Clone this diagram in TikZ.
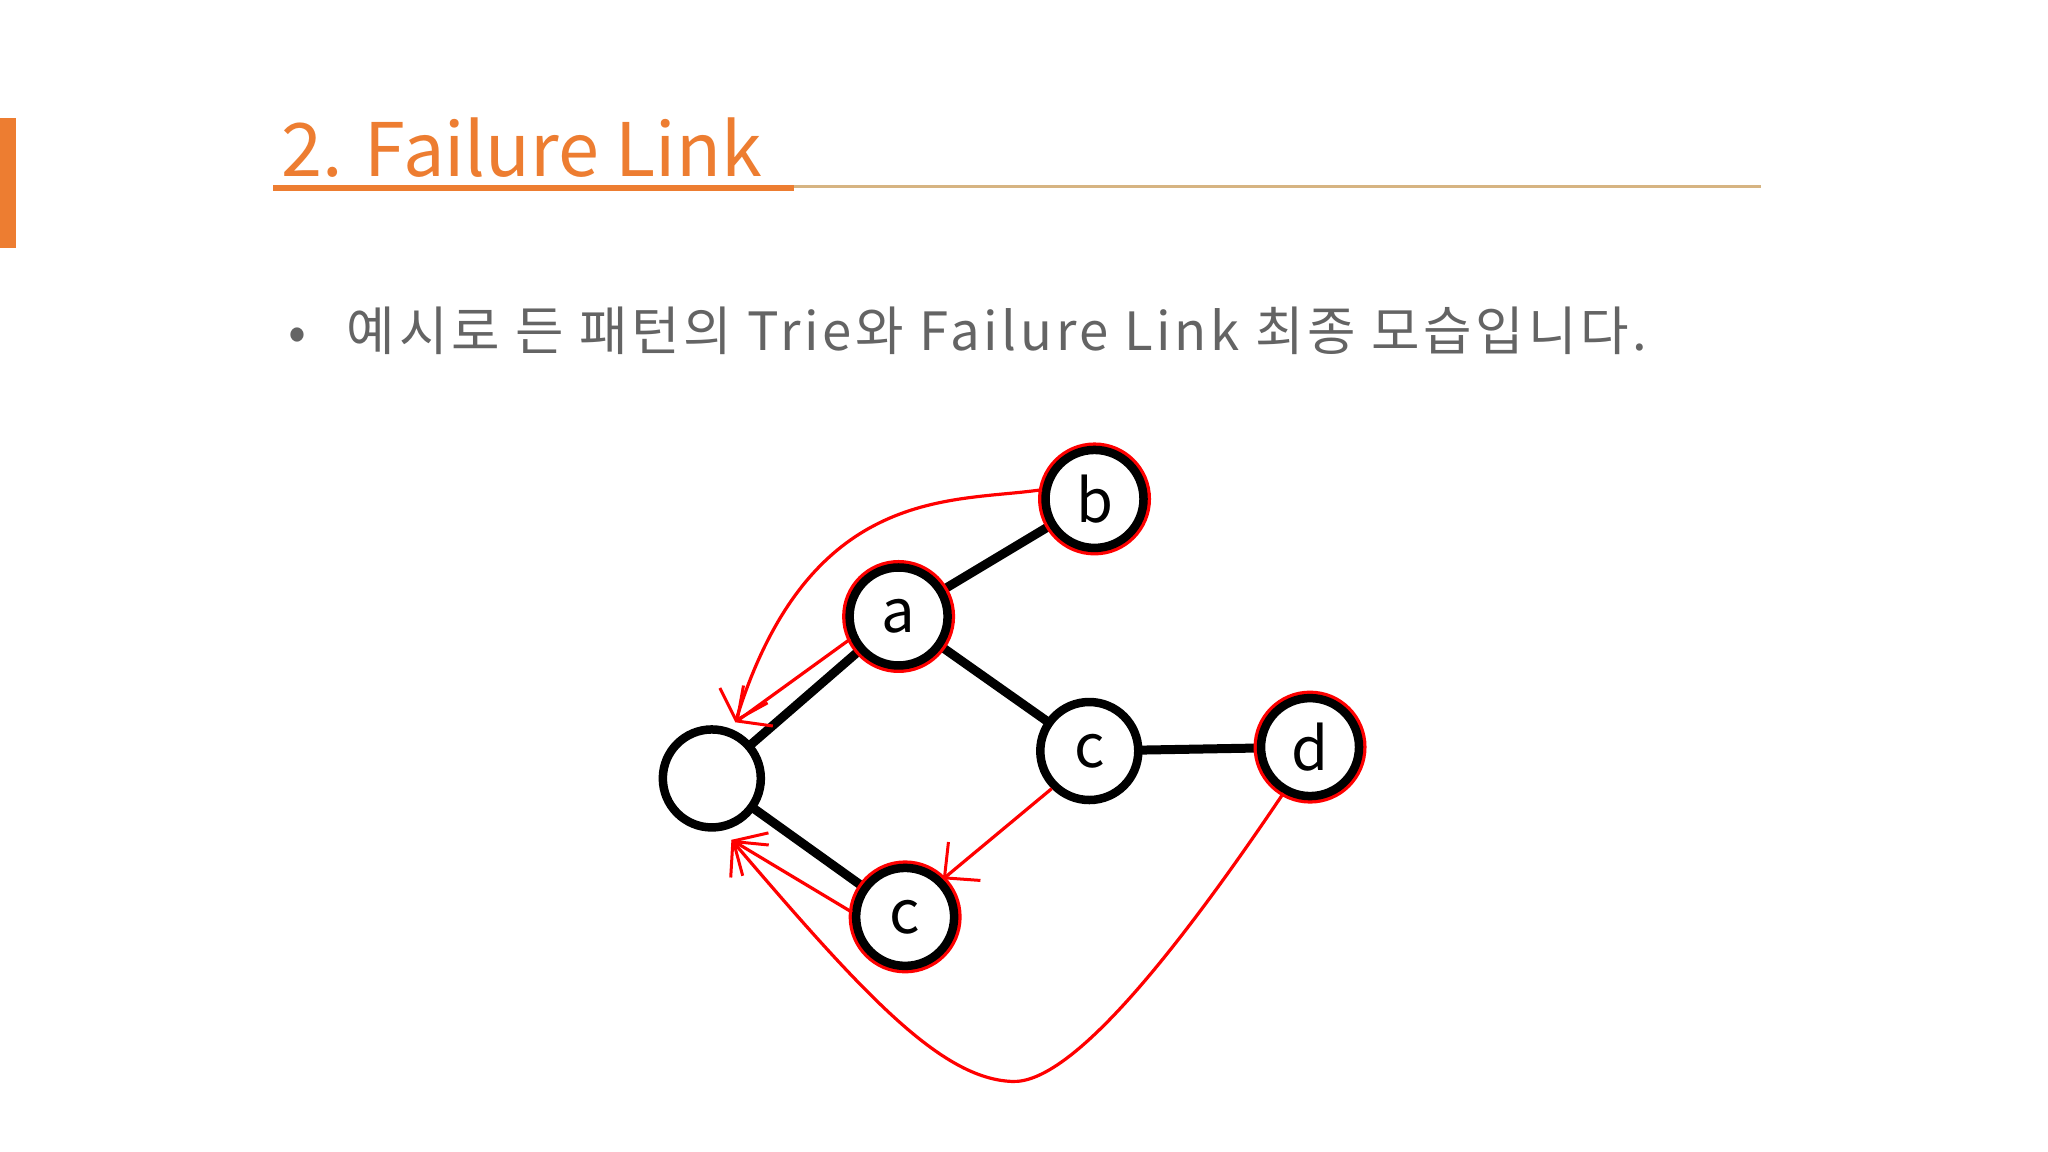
\documentclass[tikz,border=0pt]{standalone}
\usepackage{fontspec}
\setmainfont{Noto Sans CJK KR}
\usetikzlibrary{arrows.meta}
\definecolor{org}{RGB}{237,125,49}
\definecolor{tan}{RGB}{214,180,130}
\definecolor{txt}{RGB}{100,100,100}
\begin{document}
\begin{tikzpicture}[x=0.01306cm,y=-0.01306cm,
  tnode/.style={circle,draw=black,line width=0.85mm,fill=white,minimum size=0.98cm,inner sep=0pt,font=\fontsize{17}{17}\selectfont},
  rnode/.style={tnode,preaction={draw=red,line width=1.5mm}},
  edge/.style={line width=0.9mm,black},
  fail/.style={red,line width=0.32mm,-{Straight Barb[length=2.6mm,width=5mm,line width=0.3mm]}}]
\useasboundingbox (0,0) rectangle (1568,882);
\fill[white] (0,0) rectangle (1568,882);
\fill[org] (0,90) rectangle (12,190);
\node[anchor=base west,inner sep=0pt,text=org,font=\fontsize{21}{21}\selectfont] (title) at (215,135) {2. Failure Link};
\fill[org] (209,141.5) rectangle (608,146.5);
\draw[tan,line width=0.3mm] (608,143) -- (1348,143);
\node[anchor=base west,inner sep=0pt,text=txt,font=\fontsize{15}{15}\selectfont] (bul) at (220,268) {•};
\node[anchor=base west,inner sep=0pt,text=txt,font=\fontsize{15}{15}\selectfont\addfontfeatures{LetterSpace=7}] (sub) at (265,268) {예시로 든 패턴의 Trie와 Failure Link 최종 모습입니다.};
\coordinate (r0) at (545,596);
\coordinate (pa) at (688,472);
\coordinate (pb) at (838,382);
\coordinate (pc) at (834,575);
\coordinate (pd) at (1003,572);
\coordinate (pe) at (693,702);
\draw[edge] (r0) -- (pa); \draw[edge] (pa) -- (pb); \draw[edge] (pa) -- (pc);
\draw[edge] (pc) -- (pd); \draw[edge] (r0) -- (pe);
\node[tnode] (root) at (r0) {};
\node[rnode] (a) at (pa) {a};
\node[rnode] (b) at (pb) {b};
\node[tnode] (c) at (pc) {c};
\node[rnode] (d) at (pd) {d};
\node[rnode] (e) at (pe) {c};
\coordinate (rt1) at (563,553);
\coordinate (rt2) at (560,643);
\draw[fail] (b.170) .. controls (730,385) and (620,370) .. (rt1);
\draw[fail] (a.205) -- (rt1);
\draw[fail] (c.225) -- (e.45);
\draw[fail] (e.175) -- (rt2);
\draw[fail] (d.240) .. controls (900,730) and (820,830) .. (775,828) .. controls (720,826) and (660,760) .. (rt2);
\end{tikzpicture}
\end{document}
